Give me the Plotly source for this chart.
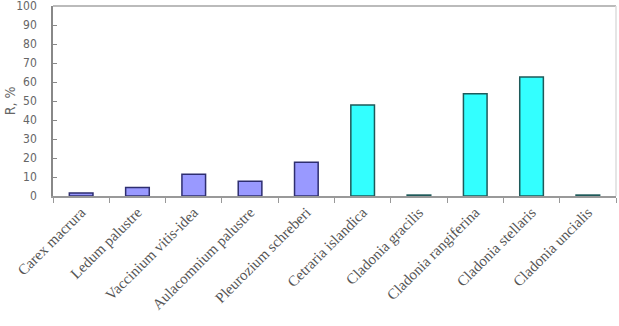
import plotly.graph_objects as go

species = ["Carex macrura", "Ledum palustre", "Vaccinium vitis-idea",
           "Aulacomnium palustre", "Pleurozium schreberi", "Cetraria islandica",
           "Cladonia gracilis", "Cladonia rangiferina", "Cladonia stellaris",
           "Cladonia uncialis"]
values = [1.6, 4.5, 11.4, 7.8, 17.7, 47.9, 0.5, 53.8, 62.6, 0.5]
groups = ["vasc", "vasc", "vasc", "vasc", "vasc", "lichen", "lichen", "lichen", "lichen", "lichen"]
y_title = "R, %"

fill = {"vasc": "#9999FF", "lichen": "#33FFFF"}
edge = {"vasc": "#2E2E70", "lichen": "#1E5A5A"}

fig = go.Figure(go.Bar(
    x=species, y=values,
    marker=dict(color=[fill[g] for g in groups],
                line=dict(color=[edge[g] for g in groups], width=1.5)),
    width=0.42,
))

xfnt = dict(family="Liberation Serif, Times New Roman, serif", size=15, color="#555555")
yfnt = dict(family="Liberation Sans Narrow, Arial Narrow, DejaVu Sans Condensed, sans-serif",
            size=12, color="#666666")
tfnt = dict(family="Liberation Sans Narrow, Arial Narrow, DejaVu Sans Condensed, sans-serif",
            size=14, color="#666666")

fig.update_layout(
    width=619, height=326,
    margin=dict(l=53, r=3, t=6, b=130, autoexpand=False),
    paper_bgcolor="white", plot_bgcolor="white",
    showlegend=False,
    font=xfnt,
    xaxis=dict(tickangle=-45, tickfont=xfnt, showline=True, linecolor="#999999",
               linewidth=1.5, ticks="outside", tickson="boundaries", ticklen=5,
               tickcolor="#999999", showgrid=False, mirror=False, automargin=False,
               ticklabeloverflow="allow"),
    yaxis=dict(range=[0, 100], dtick=10, tickfont=yfnt, showline=True,
               linecolor="#888888", linewidth=1.5, ticks="inside", ticklen=4,
               tickcolor="#888888", showgrid=False, ticklabelstandoff=12,
               automargin=False, ticklabeloverflow="allow", zeroline=False),
    annotations=[dict(text=y_title, xref="paper", yref="paper", x=-0.076, y=0.5,
                      xanchor="center", yanchor="middle", textangle=-90,
                      showarrow=False, font=tfnt)],
    shapes=[
        dict(type="line", xref="paper", yref="paper", x0=0, x1=1, y0=1, y1=1,
             line=dict(color="#BBBBBB", width=2)),
        dict(type="line", xref="paper", yref="paper", x0=1, x1=1, y0=0, y1=1,
             line=dict(color="#DDDDDD", width=1.5)),
    ],
)

fig.write_html("out.html", config={"responsive": False, "displayModeBar": False},
               post_script="document.body.style.margin='0';document.body.style.overflow='hidden';")
